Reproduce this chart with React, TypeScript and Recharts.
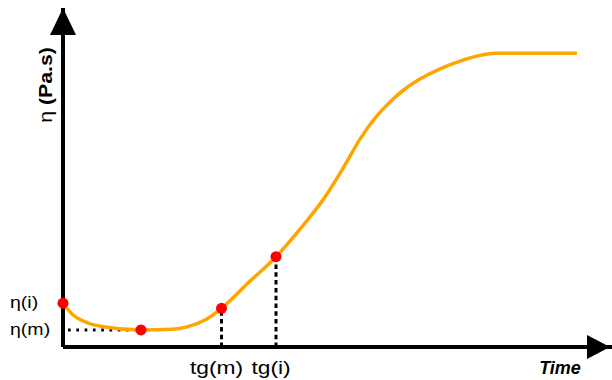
import React from "react";
import {
  ComposedChart,
  Line,
  Scatter,
  XAxis,
  YAxis,
  ReferenceLine,
  ReferenceDot,
} from "recharts";

// Curve: time (arbitrary units) vs viscosity (arbitrary units)
const timeValues = [0, 1.7, 5, 8.4, 15.6, 21.8, 25, 28.4, 31.7, 37, 42.6, 47.4, 52.4, 56.4, 59.4, 62.4, 65.4, 68.4, 71.4, 75.4, 79.4, 83.4, 86.4, 102.8];
const viscosityValues = [14.6, 11.2, 8, 6.7, 5.7, 5.9, 6.8, 9, 12.9, 21.3, 30.1, 39.3, 50, 60.7, 69.3, 76.3, 81.7, 86, 89.3, 92.7, 95.3, 97.2, 97.9, 97.9];

// Marked points
const markTimes = [0, 15.6, 31.7, 42.6];
const markViscosity = [14.6, 5.7, 12.9, 30.1];

// Axis tick labels
const etaTicks = [5.7, 14.6];
const etaLabels = ["η(m)", "η(i)"];
const timeTicks = [31.7, 42.6];
const timeLabels = ["tg(m)", "tg(i)"];

const xMax = 109.8;
const yMax = 113;

const curve = timeValues.map((t, i) => ({ t, eta: viscosityValues[i] }));
const marks = markTimes.map((t, i) => ({ t, eta: markViscosity[i] }));

const FONT = "'Liberation Sans', Arial, sans-serif";

function YTick(props: any) {
  const { x, y, payload } = props;
  const i = etaTicks.indexOf(payload.value);
  return (
    <text
      x={0}
      y={0}
      transform={`translate(${x - 45},${y + 5}) scale(1.15,1)`}
      fontFamily={FONT}
      fontSize={17}
      fill="#000"
    >
      {etaLabels[i]}
    </text>
  );
}

function XTick(props: any) {
  const { x, y, payload } = props;
  const i = timeTicks.indexOf(payload.value);
  return (
    <text
      x={0}
      y={0}
      transform={`translate(${x - 5},${y + 19}) scale(1.2,1)`}
      textAnchor="middle"
      fontFamily={FONT}
      fontSize={19}
      fill="#000"
    >
      {timeLabels[i]}
    </text>
  );
}

function YLabel(props: any) {
  const vb = props.viewBox || { x: 0, y: 8, width: 63, height: 339 };
  const cx = vb.x + 52;
  const cy = vb.y + 77;
  return (
    <text
      x={0}
      y={0}
      transform={`translate(${cx},${cy}) rotate(-90) scale(1.12,1)`}
      textAnchor="middle"
      fontFamily={FONT}
      fontSize={19}
      fill="#000"
    >
      <tspan>η </tspan>
      <tspan fontWeight="bold">(Pa.s)</tspan>
    </text>
  );
}

function XLabel(props: any) {
  const vb = props.viewBox || { x: 63, y: 347, width: 549, height: 33 };
  return (
    <text
      x={vb.x + 497}
      y={vb.y + 27}
      textAnchor="middle"
      fontFamily={FONT}
      fontSize={18}
      fontWeight="bold"
      fontStyle="italic"
      fill="#000"
    >
      Time
    </text>
  );
}

const XArrow = (p: any) => (
  <polygon
    points={`${p.cx},${p.cy} ${p.cx - 23},${p.cy - 12} ${p.cx - 23},${p.cy + 12}`}
    fill="#000"
  />
);

const YArrow = (p: any) => (
  <polygon
    points={`${p.cx},${p.cy} ${p.cx - 13},${p.cy + 27} ${p.cx + 13},${p.cy + 27}`}
    fill="#000"
  />
);

const RedDot = (p: any) => <circle cx={p.cx} cy={p.cy} r={5.5} fill="#FF0000" />;

export default function App() {
  return (
    <div style={{ position: "absolute", left: 0, top: 0, background: "#fff" }}>
      <ComposedChart
        width={612}
        height={380}
        data={curve}
        margin={{ top: 8, right: 0, bottom: 0, left: 0 }}
      >
        <XAxis
          dataKey="t"
          type="number"
          domain={[0, xMax]}
          ticks={timeTicks}
          interval={0}
          tickLine={false}
          axisLine={{ stroke: "#000", strokeWidth: 4 }}
          tick={<XTick />}
          height={33}
          label={<XLabel />}
        />
        <YAxis
          dataKey="eta"
          type="number"
          domain={[0, yMax]}
          ticks={etaTicks}
          interval={0}
          tickLine={false}
          axisLine={{ stroke: "#000", strokeWidth: 4 }}
          tick={<YTick />}
          width={63}
          label={<YLabel />}
        />
        <ReferenceLine
          segment={[
            { x: 1, y: markViscosity[1] },
            { x: markTimes[1], y: markViscosity[1] },
          ]}
          stroke="#000"
          strokeWidth={3}
          strokeDasharray="2.7 5.6"
        />
        <ReferenceLine
          segment={[
            { x: markTimes[2], y: 0 },
            { x: markTimes[2], y: markViscosity[2] },
          ]}
          stroke="#000"
          strokeWidth={3}
          strokeDasharray="4.5 3.3"
        />
        <ReferenceLine
          segment={[
            { x: markTimes[3], y: 0 },
            { x: markTimes[3], y: markViscosity[3] },
          ]}
          stroke="#000"
          strokeWidth={3}
          strokeDasharray="4.5 3.3"
        />
        <Line
          dataKey="eta"
          type="monotone"
          stroke="#FFA500"
          strokeWidth={3.5}
          dot={false}
          activeDot={false}
          isAnimationActive={false}
        />
        <Scatter
          data={marks}
          dataKey="eta"
          shape={<RedDot />}
          isAnimationActive={false}
        />
        <ReferenceDot x={109.4} y={0} r={0} shape={<XArrow />} />
        <ReferenceDot x={0} y={yMax} r={0} shape={<YArrow />} />
      </ComposedChart>
    </div>
  );
}
